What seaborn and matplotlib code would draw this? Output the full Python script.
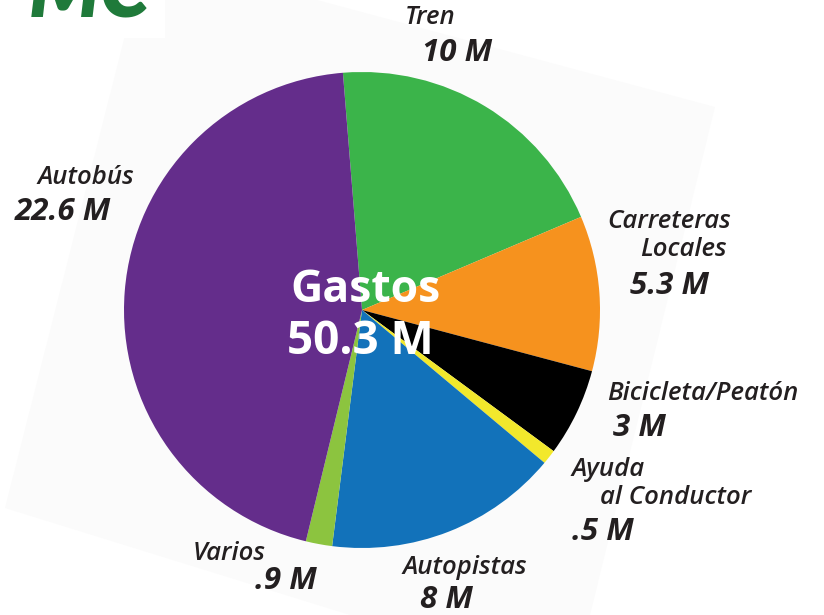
import matplotlib
matplotlib.use("Agg")
import matplotlib.pyplot as plt
from matplotlib.patches import Polygon, Rectangle
import seaborn as sns

# ---- data ----
categories = ["Tren", "Carreteras\nLocales", "Bicicleta/Peatón", "Ayuda\nal Conductor",
              "Autopistas", "Varios", "Autobús"]
values = [10, 5.3, 3, 0.5, 8, 0.9, 22.6]
value_labels = ["10 M", "5.3 M", "3 M", ".5 M", "8 M", ".9 M", "22.6 M"]
colors = ["#3bb44a", "#f6921e", "#000000", "#f2e82c", "#1272ba", "#8cc43f", "#642d8b"]
total_title = "Gastos"
total_label = "50.3 M"

sns.set_theme(style="white")
plt.rcParams["font.family"] = ["Open Sans", "DejaVu Sans"]

W, H = 824, 615
fig = plt.figure(figsize=(W / 100, H / 100), dpi=100)
fig.patch.set_facecolor("white")
ax = fig.add_axes([0, 0, 1, 1])
ax.set_xlim(0, W)
ax.set_ylim(0, H)
ax.axis("off")


def P(x, y):
    return (x, H - y)


# faint tilted backdrop
back = Polygon([P(134, 0), P(317, 0), P(715, 107), P(590, 615), P(350, 615), P(5, 508)],
               closed=True, facecolor="#fbfbfb", edgecolor="none", zorder=0)
ax.add_patch(back)
# logo box + cropped logo
ax.add_patch(Rectangle(P(0, 38), 165, 38, facecolor="white", edgecolor="none", zorder=1))
ax.text(*P(150, 18), "MC", ha="right", va="baseline", fontsize=58, fontweight="heavy",
        fontstyle="italic", color="#1f7a3a", zorder=2, family=["Lato", "DejaVu Sans"])

# pie
start = 90 + 4.6
ax.pie(values, colors=colors, startangle=start, counterclock=False,
       center=P(362, 310), radius=238, frame=True,
       wedgeprops=dict(linewidth=0, antialiased=True))
ax.set_xlim(0, W)
ax.set_ylim(0, H)
ax.axis("off")

name_pos = [(405, 18), (607, 222), (607, 393), (572, 470), (403, 567), (193, 553), (38, 177)]
value_pos = [(422, 53), (630, 286), (613, 428), (572, 532), (420, 600), (255, 581), (15, 212)]
second_line_x = [0, 640, 0, 600, 0, 0, 0]
line_gap = 27

txt_col = "#231f20"
for name, npos, vlab, vpos, x2 in zip(categories, name_pos, value_labels, value_pos, second_line_x):
    lines = name.split("\n")
    for i, ln in enumerate(lines):
        x = npos[0] if i == 0 else x2
        ax.text(*P(x, npos[1] + i * line_gap), ln, ha="left", va="center", fontsize=18.5,
                fontstyle="italic", fontweight="semibold", color=txt_col, zorder=5)
    ax.text(*P(vpos[0], vpos[1]), vlab, ha="left", va="center", fontsize=22.5,
            fontstyle="italic", fontweight="bold", color=txt_col, zorder=5)

ax.text(*P(366, 290), total_title, ha="center", va="center", fontsize=32,
        fontweight="bold", color="white", zorder=6)
ax.text(*P(360, 342), total_label, ha="center", va="center", fontsize=33,
        fontweight="bold", color="white", zorder=6)

fig.savefig("out.png", dpi=100, facecolor="white")
